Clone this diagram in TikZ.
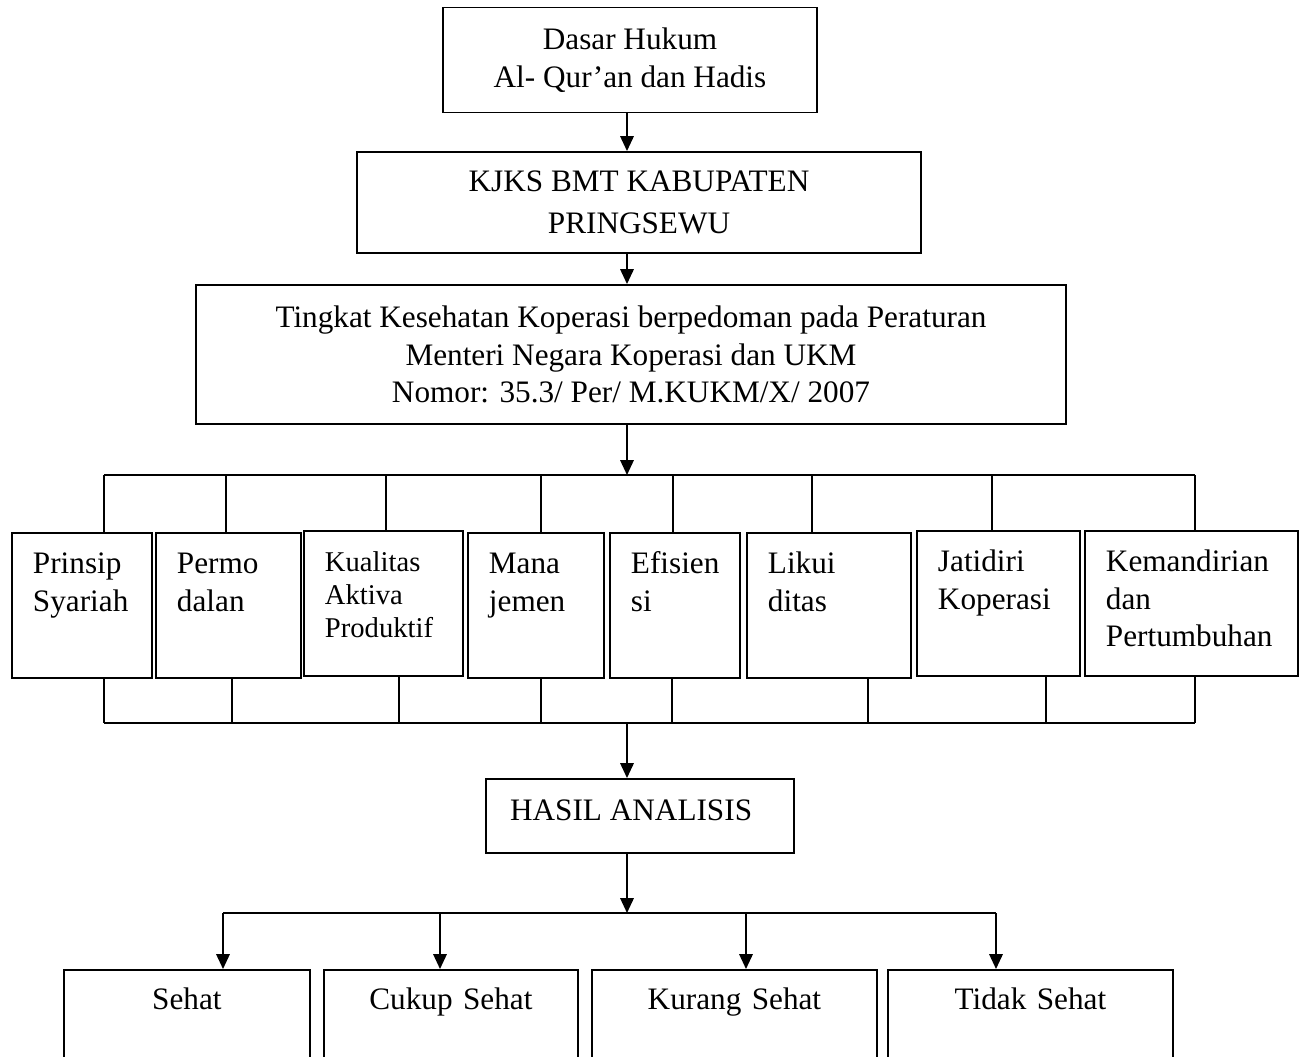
\documentclass[tikz,border=0pt]{standalone}
\usepackage{fontspec}
\setmainfont{Liberation Serif}
\usetikzlibrary{arrows.meta,positioning}
\hyphenpenalty=10000
\exhyphenpenalty=10000

\begin{document}
\begin{tikzpicture}[x=0.0135cm, y=-0.0135cm, line width=0.75pt]
    \tikzset{
        every node/.style={font=\fontsize{12}{14.4}\selectfont},
        kotak/.style={draw, align=center, inner sep=0pt},
        aspek/.style={draw, anchor=north west, align=left, inner xsep=0.2835cm, inner ysep=0.27cm, text height=0.28cm, text depth=1.1364cm},
        kategori/.style={draw, anchor=north west, align=center, inner xsep=0.1cm, inner ysep=0.26cm, text height=0.28cm, text depth=2cm},
        panah/.style={-{Triangle[length=2mm, width=1.8mm]}}
    }
    \useasboundingbox (0,0) rectangle (1306,1056);
    \clip (0,0) rectangle (1306,1056);

    \coordinate (poros) at (627,0);

    % dasar, lembaga, pedoman
    \node[kotak, minimum width=5.0625cm, minimum height=1.4175cm] (dasar) at (630,60) {Dasar Hukum\\Al- Qur’an dan Hadis};
    \node[kotak, minimum width=7.614cm, minimum height=1.3635cm, font=\fontsize{12}{16}\selectfont] (kjks) at (639,202.5) {KJKS BMT KABUPATEN\\PRINGSEWU};
    \node[kotak, minimum width=11.745cm, minimum height=1.8765cm] (tingkat) at (631,354.5) {Tingkat Kesehatan Koperasi berpedoman pada Peraturan\\Menteri Negara Koperasi dan UKM\\Nomor: 35.3/ Per/ M.KUKM/X/ 2007};

    \draw[panah] (dasar.south -| poros) -- (poros |- kjks.north);
    \draw[panah] (kjks.south -| poros) -- (poros |- tingkat.north);

    % aspek penilaian
    \node[aspek, text width=1.323cm] (prinsip) at (11,532) {Prinsip\\Syariah};
    \node[aspek, text width=1.3905cm] (permodalan) at (155,532) {Permo\\dalan};
    \node[aspek, text width=1.5795cm, font=\fontsize{11}{12.7}\selectfont] (kualitas) at (303,530) {Kualitas\\Aktiva\\Produktif};
    \node[aspek, text width=1.269cm] (manajemen) at (467,532) {Mana\\jemen};
    \node[aspek, text width=1.188cm] (efisiensi) at (609,532) {Efisien\\si};
    \node[aspek, text width=1.647cm] (likuiditas) at (746,532) {Likui\\ditas};
    \node[aspek, text width=1.6335cm] (jatidiri) at (916,530) {Jatidiri\\Koperasi};
    \node[aspek, text width=2.3085cm] (kemandirian) at (1084,530) {Kemandirian\\dan\\Pertumbuhan};

    \foreach \n/\x [count=\i] in {prinsip/104, permodalan/226, kualitas/386, manajemen/541, efisiensi/673, likuiditas/812, jatidiri/992, kemandirian/1195} {
        \coordinate (atas\i) at (\x,475);
        \draw (atas\i) -- (atas\i |- \n.north);
    }
    \draw (atas1) -- (atas8);
    \draw[panah] (tingkat.south -| poros) -- (poros |- atas1);

    \foreach \n/\x [count=\i] in {prinsip/104, permodalan/232, kualitas/399, manajemen/541, efisiensi/672, likuiditas/868, jatidiri/1046, kemandirian/1195} {
        \coordinate (bawah\i) at (\x,723);
        \draw (\n.south -| bawah\i) -- (bawah\i);
    }
    \draw (bawah1) -- (bawah8);

    % hasil
    \node[kotak, minimum width=4.158cm, minimum height=0.999cm, text height=0.28cm, text depth=0.16cm] (hasil) at (640,816) {HASIL ANALISIS\hspace*{0.24cm}};
    \draw[panah] (bawah1 -| poros) -- (poros |- hasil.north);

    \node[kategori, text width=3.121cm] (sehat) at (63,969) {Sehat};
    \node[kategori, text width=3.229cm] (cukup) at (323,969) {Cukup Sehat};
    \node[kategori, text width=3.6475cm] (kurang) at (591,969) {Kurang Sehat};
    \node[kategori, text width=3.6475cm] (tidak) at (887,969) {Tidak Sehat};

    \foreach \n/\x [count=\i] in {sehat/223, cukup/440, kurang/746, tidak/996} {
        \coordinate (cabang\i) at (\x,913);
        \draw[panah] (cabang\i) -- (cabang\i |- \n.north);
    }
    \draw (cabang1) -- (cabang4);
    \draw[panah] (hasil.south -| poros) -- (poros |- cabang1);
\end{tikzpicture}
\end{document}
